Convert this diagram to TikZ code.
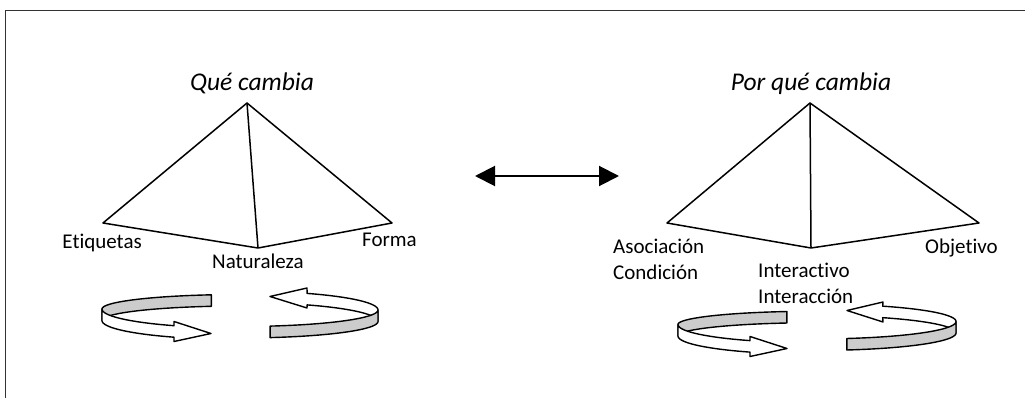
\documentclass[tikz,border=0pt]{standalone}
\usepackage{fontspec}
\setmainfont{Carlito}[Ligatures={NoCommon}]
\usetikzlibrary{arrows.meta}
\definecolor{bandgray}{RGB}{204,204,204}
\definecolor{framegray}{RGB}{50,50,50}
\begin{document}
\begin{tikzpicture}[x=1pt,y=-1pt,
  lbl/.style={inner sep=0pt,font=\fontsize{21}{24}\selectfont},
  ttl/.style={inner sep=0pt,font=\fontsize{25.5}{30}\selectfont\itshape},
  edge/.style={line width=1.5pt,line join=round},
  rib/.style={line width=1.4pt,line join=round},
  backfill/.style={rib,fill=bandgray},
  frontfill/.style={rib,fill=white},
  frame/.style={draw=framegray,line width=1pt},
  dbl/.style={line width=2pt,{Triangle[length=20pt,width=20pt]}-{Triangle[length=20pt,width=20pt]}}]
\useasboundingbox (0,0) rectangle (1025,398);
% frame
\coordinate (f1) at (5,398);
\coordinate (f2) at (5,11);
\coordinate (f3) at (1025,11);
\draw[frame] (f1) -- (f2) -- (f3);

% left pyramid
\coordinate (La) at (247,103);
\coordinate (Lw) at (103,223);
\coordinate (Ls) at (258,248);
\coordinate (Le) at (392,223);
\draw[edge] (La) -- (Lw) -- (Ls) -- (Le) -- cycle;
\draw[edge] (La) -- (Ls);
\node[ttl,anchor=base] (t1) at (252,91) {Qué cambia};
\node[lbl,anchor=base east] (l1) at (142,248) {Etiquetas};
\node[lbl,anchor=base west] (l2) at (212,268) {Naturaleza};
\node[lbl,anchor=base west] (l3) at (362,247) {Forma};

% right pyramid
\coordinate (Ra) at (810,103);
\coordinate (Rw) at (667,223);
\coordinate (Rs) at (811,248);
\coordinate (Re) at (979,223);
\draw[edge] (Ra) -- (Rw) -- (Rs) -- (Re) -- cycle;
\draw[edge] (Ra) -- (Rs);
\node[ttl,anchor=base] (t2) at (811,91) {Por qué cambia};
\node[lbl,anchor=base west] (r1) at (613,253) {Asociación};
\node[lbl,anchor=base west] (r2) at (613,279) {Condición};
\node[lbl,anchor=base west] (r3) at (758,277) {Interactivo};
\node[lbl,anchor=base west] (r4) at (758,303) {Interacción};
\node[lbl,anchor=base west] (r5) at (925,253) {Objetivo};

% double arrow
\coordinate (dl) at (475,176);
\coordinate (dr) at (619,176);
\draw[dbl] (dl) -- (dr);

% ---- left rotation arrows (cx=240, a=138, h=11.5)
% left half: back gray band
\filldraw[backfill] plot[domain=102:180,samples=40,variable=\t] ({240+138*cos(\t)},{309-14.5*sin(\t)})
  -- plot[domain=180:102,samples=40,variable=\t] ({240+138*cos(\t)},{320.5-14.5*sin(\t)}) -- cycle;
% left half: front white arrow
\filldraw[frontfill] plot[domain=180:241.4,samples=40,variable=\t] ({240+138*cos(\t)},{309-19*sin(\t)})
  -- (174,321.5) -- (211,333.5) -- (174,341.5)
  -- plot[domain=241.4:180,samples=40,variable=\t] ({240+138*cos(\t)},{320.5-19*sin(\t)}) -- cycle;
% right half: back white arrow
\filldraw[frontfill] plot[domain=0:60.9,samples=40,variable=\t] ({240+138*cos(\t)},{310-19*sin(\t)})
  -- (307,288) -- (270,296.5) -- (307,308)
  -- plot[domain=60.9:0,samples=40,variable=\t] ({240+138*cos(\t)},{321.5-19*sin(\t)}) -- cycle;
% right half: front gray band
\filldraw[backfill] plot[domain=282.6:360,samples=40,variable=\t] ({240+138*cos(\t)},{310-16.5*sin(\t)})
  -- plot[domain=360:282.6,samples=40,variable=\t] ({240+138*cos(\t)},{321.5-16.5*sin(\t)}) -- cycle;

% ---- right rotation arrows (cx=817, a=139, h=11.5)
% left half: back gray band
\filldraw[backfill] plot[domain=102.5:180,samples=40,variable=\t] ({817+139*cos(\t)},{324.5-13.3*sin(\t)})
  -- plot[domain=180:102.5,samples=40,variable=\t] ({817+139*cos(\t)},{336-13.3*sin(\t)}) -- cycle;
% left half: front white arrow
\filldraw[frontfill] plot[domain=180:241.2,samples=40,variable=\t] ({817+139*cos(\t)},{324.5-18.4*sin(\t)})
  -- (750,336.5) -- (787,348.5) -- (750,356.5)
  -- plot[domain=241.2:180,samples=40,variable=\t] ({817+139*cos(\t)},{336-18.4*sin(\t)}) -- cycle;
% right half: back white arrow
\filldraw[frontfill] plot[domain=0:61.8,samples=40,variable=\t] ({817+139*cos(\t)},{321.5-17.4*sin(\t)})
  -- (883,302) -- (847,310.5) -- (883,322)
  -- plot[domain=61.8:0,samples=40,variable=\t] ({817+139*cos(\t)},{333-17.4*sin(\t)}) -- cycle;
% right half: front gray band
\filldraw[backfill] plot[domain=282.4:360,samples=40,variable=\t] ({817+139*cos(\t)},{321.5-17.4*sin(\t)})
  -- plot[domain=360:282.4,samples=40,variable=\t] ({817+139*cos(\t)},{333-17.4*sin(\t)}) -- cycle;
\end{tikzpicture}
\end{document}
